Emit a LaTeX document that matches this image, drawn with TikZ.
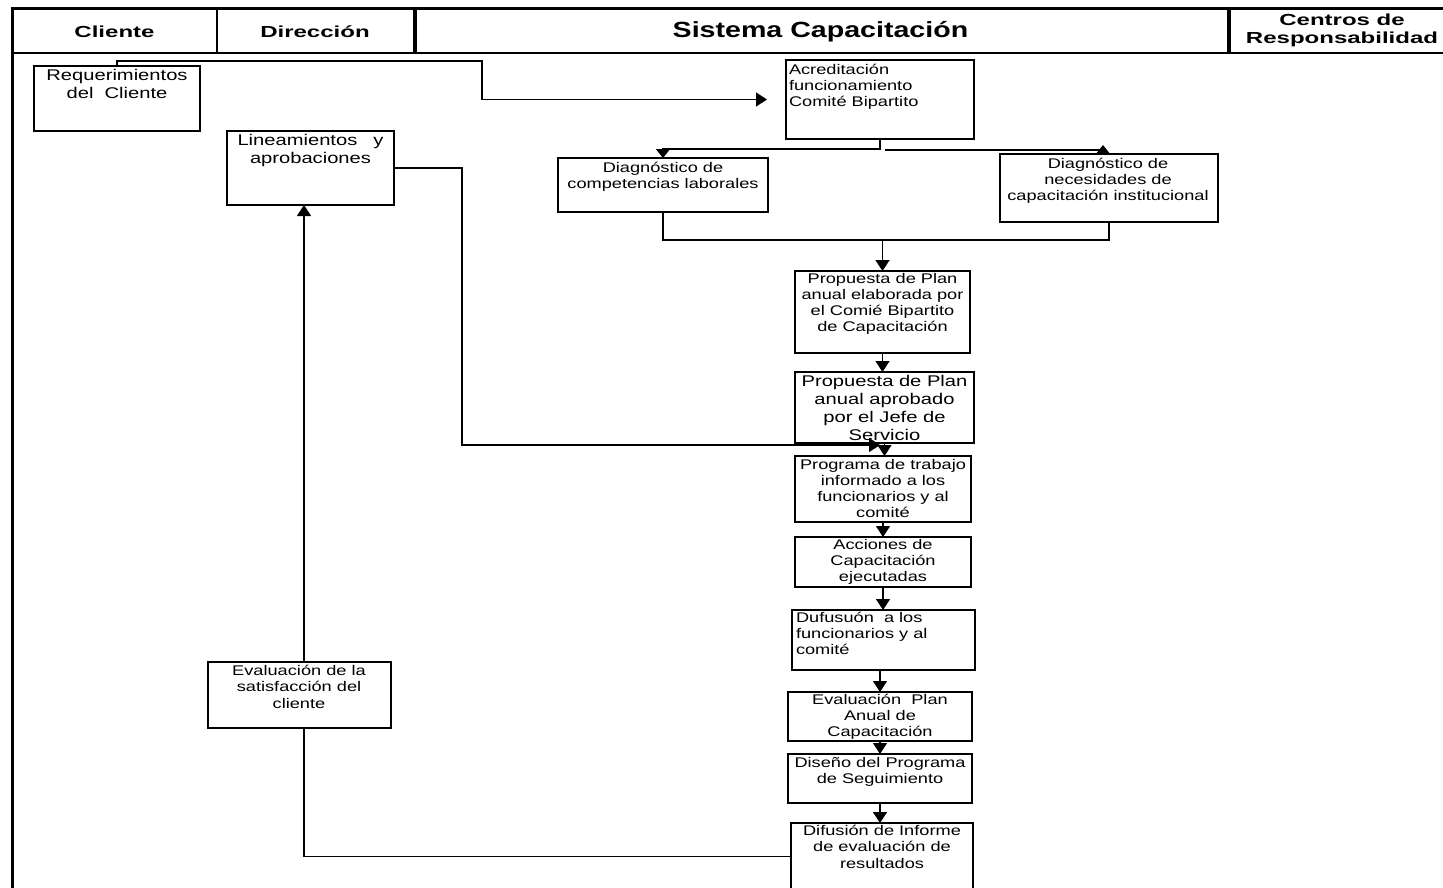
\documentclass[tikz,border=0pt]{standalone}
\usepackage{fontspec}
\setmainfont{Liberation Sans}[FakeStretch=1.3]
\newfontfamily\hdrfont{Liberation Sans}[FakeStretch=1.5]
\usetikzlibrary{arrows.meta}
\begin{document}
\begin{tikzpicture}[x=1pt,y=-1pt,
  boxst/.style={draw, rectangle, line width=1.5pt, inner sep=0pt, outer sep=0pt, anchor=north west},
  txt/.style={inner sep=0pt, outer sep=0pt, anchor=north, align=center,
              font=\fontsize{14}{16.2}\selectfont},
  txtl/.style={txt, anchor=north west, align=left},
  bigtxt/.style={txt, font=\fontsize{15.5}{18}\selectfont},
  hdr/.style={inner sep=0pt, outer sep=0pt, anchor=base,
              font=\fontsize{16}{18.3}\selectfont\hdrfont\bfseries},
  conn/.style={line width=1.3pt},
  >={Triangle[width=14pt,length=11pt]},
  short/.style={-{Triangle[width=14pt,length=9pt]}}]

\useasboundingbox (0,0) rectangle (1443,887);
\clip (0,0) rectangle (1443,887);

% swimlane frame and header
\draw[line width=2.8pt, line join=miter] (12.5,895) -- (12.5,8.7) -- (1450,8.7);
\draw[line width=2.8pt] (11,53) -- (1450,53);
\draw[line width=2pt] (217.3,8.7) -- (217.3,53);
\draw[line width=3.3pt] (415,8.7) -- (415,53);
\draw[line width=4pt] (1229,8.7) -- (1229,53);

\node[hdr] (hcli) at (114.5,37.3) {Cliente};
\node[hdr] (hdir) at (315,37.3) {Dirección};
\node[inner sep=0pt, anchor=base, font=\fontsize{22}{26}\selectfont\bfseries] (hsis) at (820.5,37.5) {Sistema Capacitación};
\node[hdr, anchor=north, align=center] (hcen) at (1342,12.2) {\strut Centros de\\Responsabilidad};

% process boxes
\node[boxst, minimum width=166, minimum height=65] (req) at (34,66) {};
\node[boxst, minimum width=167, minimum height=74] (lin) at (227,131) {};
\node[boxst, minimum width=188, minimum height=79] (acr) at (786,60) {};
\node[boxst, minimum width=210, minimum height=54] (comp) at (558,158) {};
\node[boxst, minimum width=218, minimum height=68] (nec) at (1000,154) {};
\node[boxst, minimum width=175, minimum height=82] (prop1) at (795,271) {};
\node[boxst, minimum width=179, minimum height=71] (prop2) at (795,372) {};
\node[boxst, minimum width=176, minimum height=66] (prog) at (795,456) {};
\node[boxst, minimum width=176, minimum height=50] (acc) at (795,537) {};
\node[boxst, minimum width=183, minimum height=60] (duf) at (792,610) {};
\node[boxst, minimum width=184, minimum height=49] (evp) at (788,692) {};
\node[boxst, minimum width=184, minimum height=49] (dis) at (788,754) {};
\node[boxst, minimum width=182, minimum height=67] (dif) at (791,823) {};
\node[boxst, minimum width=183, minimum height=66] (sat) at (208,662) {};

% box texts
\node[bigtxt] (req-t) at (117,67.4) {\strut Requerimientos\\del\ \ Cliente};
\node[bigtxt] (lin-t) at (310.5,132.4) {\strut Lineamientos\hspace{16pt}y\\aprobaciones};
\node[txtl] (acr-t) at (789,62.7) {\strut Acreditación\\funcionamiento\\Comité Bipartito};
\node[txt] (comp-t) at (663,160.7) {\strut Diagnóstico de\\competencias laborales};
\node[txt] (nec-t) at (1108,156.7) {\strut Diagnóstico de\\necesidades de\\capacitación institucional};
\node[txt] (prop1-t) at (882.5,272) {\strut Propuesta de Plan\\anual elaborada por\\el Comié Bipartito\\de Capacitación};
\node[bigtxt] (prop2-t) at (884.5,373.4) {\strut Propuesta de Plan\\anual aprobado\\por el Jefe de\\Servicio};
\node[txt] (prog-t) at (883,458) {\strut Programa de trabajo\\informado a los\\funcionarios y al\\comité};
\node[txt] (acc-t) at (883,538) {\strut Acciones de\\Capacitación\\ejecutadas};
\node[txtl] (duf-t) at (796,610.7) {\strut Dufusuón\ \ a los\\funcionarios y al\\comité};
\node[txt] (evp-t) at (880,693) {\strut Evaluación\ \ Plan\\Anual de\\Capacitación};
\node[txt] (dis-t) at (880,756) {\strut Diseño del Programa\\de Seguimiento};
\node[txt] (dif-t) at (882,824.4) {\strut Difusión de Informe\\de evaluación de\\resultados};
\node[txt] (sat-t) at (299,664.4) {\strut Evaluación de la\\satisfacción del\\cliente};

% connectors
\coordinate (rq) at (482,61);
\draw[conn, ->, shorten >=19pt] (req.north) |- (rq) |- (acr.west);

\coordinate (sp) at (663,149);
\draw[conn, short] (acr.south) |- (sp) -- (comp.north);
\coordinate (n1) at (885,150);
\coordinate (n2) at (1103,150);
\draw[conn] (n1) -- (n2);
\draw[conn, short] ([xshift=-6pt]nec.north) -- ++(0,-9);

\coordinate (mg) at (882.5,240);
\draw[conn] (comp.south) |- (mg);
\draw[conn] (nec.south) |- (mg);
\draw[conn, ->] (mg) -- (prop1.north);

\draw[conn, ->] (prop1.south) -- (prop1.south |- prop2.north);
\draw[conn, ->] (prop2.south) -- (prop2.south |- prog.north);

\coordinate (lj) at (462,445);
\coordinate (lt) at (880,445);
\draw[conn, ->] (lin.east) -| (lj) -- (lt);

\draw[conn, ->] (prog.south) -- (acc.north);
\draw[conn, ->] (acc.south) -- (acc.south |- duf.north);
\draw[conn, ->] (evp.north |- duf.south) -- (evp.north);
\draw[conn, ->] (evp.south) -- (dis.north);
\draw[conn, ->] (dis.south) -- (dis.south |- dif.north);

\draw[conn] (dif.west) -| ([xshift=4.5pt]sat.south);
\draw[conn, ->] ([xshift=4.5pt]sat.north) -- ([xshift=-6.5pt]lin.south);
\end{tikzpicture}
\end{document}
